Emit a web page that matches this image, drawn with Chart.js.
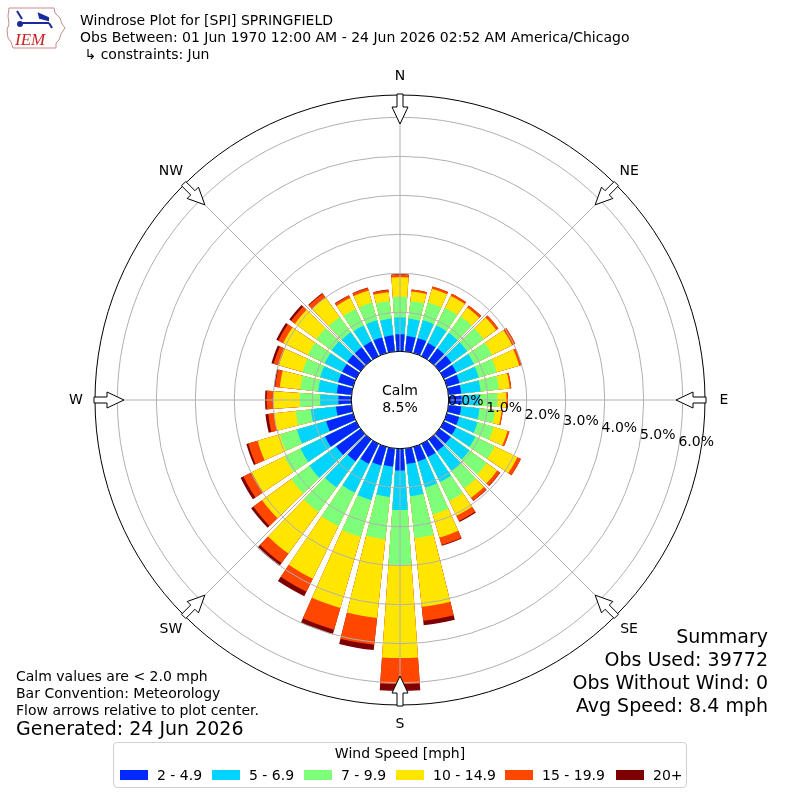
<!DOCTYPE html>
<html>
<head>
<meta charset="utf-8">
<title>Windrose Plot for [SPI] SPRINGFIELD</title>
<script src="https://cdn.jsdelivr.net/npm/chart.js@4.4.1/dist/chart.umd.min.js"></script>
<style>
  html, body { margin: 0; padding: 0; background: #fff; }
  #wrap { position: relative; width: 800px; height: 800px; overflow: hidden;
          font-family: "DejaVu Sans", sans-serif; color: #000; }
  #c { position: absolute; left: 0; top: 0; }
  .t { position: absolute; white-space: pre; font-size: 14px; line-height: 14px; }
  .big { font-size: 19px; line-height: 19px; }
  .r { text-align: right; }
  #legend { position: absolute; left: 113px; top: 742px; width: 574px; height: 46px;
            box-sizing: border-box; border: 1px solid #d0d0d0; border-radius: 4px; background: #fff; }
  #legend .title { position: absolute; left: 0; top: 3px; width: 100%; text-align: center;
                   font-size: 14px; line-height: 14px; }
  #legend .patch { position: absolute; top: 27px; width: 28px; height: 10px; }
  #legend .lab { position: absolute; top: 25px; font-size: 14px; line-height: 14px; white-space: pre; }
</style>
</head>
<body>
<div id="wrap">
  <canvas id="c" width="800" height="800"></canvas>

  <svg width="72" height="54" viewBox="0 0 72 54" style="position:absolute;left:0;top:0">
    <path d="M9,8 L54,8 L55,13 L60,18 L62,24 L65,28 L61,34 L59,40 L56,43 L56,48 L13,48 L11,42 L8,38 L7,30 L9,24 L8,16 Z"
          fill="none" stroke="#c98a8a" stroke-width="1"/>
    <g stroke="#1a2a9a" fill="#1a2a9a" stroke-width="2">
      <line x1="22" y1="23" x2="49" y2="23"/>
      <path d="M17,11 L22,19" fill="none"/>
      <path d="M39,14 L48,18 L48,20 L40,18 Z"/>
      <circle cx="20" cy="24" r="2"/>
      <path d="M49,23 L52,28" fill="none"/>
    </g>
    <text x="15" y="45" font-family="Liberation Serif" font-style="italic" font-size="17" fill="#cc2020">IEM</text>
  </svg>

  <div class="t" style="left:80px;top:13px">Windrose Plot for [SPI] SPRINGFIELD</div>
  <div class="t" style="left:80px;top:30px">Obs Between: 01 Jun 1970 12:00 AM - 24 Jun 2026 02:52 AM America/Chicago</div>
  <div class="t" style="left:80px;top:47px"> ↳ constraints: Jun</div>

  <div class="t" style="left:16px;top:669px">Calm values are &lt; 2.0 mph</div>
  <div class="t" style="left:16px;top:686px">Bar Convention: Meteorology</div>
  <div class="t" style="left:16px;top:703px">Flow arrows relative to plot center.</div>
  <div class="t big" style="left:16px;top:719px">Generated: 24 Jun 2026</div>

  <div class="t big r" style="right:32px;top:627px">Summary</div>
  <div class="t big r" style="right:32px;top:650px">Obs Used: 39772</div>
  <div class="t big r" style="right:32px;top:673px">Obs Without Wind: 0</div>
  <div class="t big r" style="right:32px;top:696px">Avg Speed: 8.4 mph</div>

  <div id="legend"><div class="title">Wind Speed [mph]</div></div>
</div>

<script>
// ---------------- data ----------------
const directions = [0,10,20,30,40,50,60,70,80,90,100,110,120,130,140,150,160,170,
                    180,190,200,210,220,230,240,250,260,270,280,290,300,310,320,330,340,350];
const speedBins = ['2 - 4.9', '5 - 6.9', '7 - 9.9', '10 - 14.9', '15 - 19.9', '20+'];
const binColors = ['#0028ff', '#00d4ff', '#7dff7a', '#ffe600', '#ff4700', '#7f0000'];

// percent of observations per direction (meteorological: direction wind blows from)
const pct2to5   = [.44,.40,.40,.38,.38,.38,.36,.34,.33,.33,.33,.33,.35,.36,.37,.38,.39,.40,
                   .56,.47,.50,.57,.69,.78,.89,.72,.40,.33,.38,.40,.40,.42,.42,.42,.42,.42];
const pct5to7   = [.43,.45,.48,.50,.50,.50,.50,.51,.50,.47,.47,.49,.55,.59,.63,.71,.70,.83,
                   1.01,.78,.92,.82,.83,.84,.70,.78,.65,.47,.48,.48,.50,.50,.48,.46,.46,.43];
const pct7to10  = [.53,.45,.47,.50,.52,.52,.52,.48,.47,.45,.40,.43,.55,.55,.55,.54,.71,1.08,
                   1.41,1.09,.98,.96,.78,.58,.46,.45,.39,.52,.46,.47,.48,.48,.48,.47,.47,.45];
const pct10to15 = [.50,.25,.37,.34,.28,.40,.57,.60,.28,.23,.17,.37,.65,.33,.30,.42,.62,1.77,
                   2.39,2.03,1.90,1.50,1.32,.92,.93,.60,.56,.68,.53,.63,.70,.68,.62,.31,.32,.23];
const pct15to20 = [.07,.05,.06,.06,.07,.07,.09,.07,.04,.04,.03,.05,.10,.09,.09,.15,.20,.36,
                   .67,.69,.58,.37,.30,.28,.24,.25,.15,.17,.12,.14,.14,.12,.12,.07,.07,.06];
const pct20up   = [.01,0,0,0,0,0,0,0,0,0,0,0,0,.01,.01,.03,.02,.12,
                   .17,.14,.12,.13,.09,.07,.08,.05,.07,.04,.03,.06,.06,.06,.02,.01,.01,.01];

const calmPct = 8.5;
const ringTicks = [0, 1, 2, 3, 4, 5, 6];
const compassLabels = ['N', 'NE', 'E', 'SE', 'S', 'SW', 'W', 'NW'];

// ---------------- build library structures ----------------
const seriesByBin = [pct2to5, pct5to7, pct7to10, pct10to15, pct15to20, pct20up];
const cumulative = [];
let running = directions.map(() => 0);
seriesByBin.forEach(arr => {
  running = running.map((v, i) => v + arr[i]);
  cumulative.push(running.slice());
});

const BAR_W = 8, GAP_W = 2;   // degrees
// sectors centred on each direction; the N sector is split in two halves
const kinds = ['bar'], angles = [BAR_W / 2];
for (let k = 1; k < directions.length; k++) { kinds.push('gap', 'bar'); angles.push(GAP_W, BAR_W); }
kinds.push('gap', 'bar'); angles.push(GAP_W, BAR_W / 2);

function toPoints(vals) {
  const pts = [vals[0]];
  for (let k = 1; k < vals.length; k++) pts.push(0, vals[k]);
  pts.push(0, vals[0]);
  return pts;
}

const datasets = cumulative.map((vals, b) => ({
  label: speedBins[b],
  data: toPoints(vals),
  backgroundColor: (ctx) => kinds[ctx.dataIndex] === 'bar' ? binColors[b] : 'rgba(0,0,0,0)',
  borderWidth: 0,
  angle: (ctx) => angles[ctx.dataIndex]
}));

const R_MIN = -1.249, R_MAX = 6.572;

// ---------------- legend (html) ----------------
const legendPatchX = [6, 98, 190, 282, 391, 502];
const legendEl = document.getElementById('legend');
speedBins.forEach((lab, i) => {
  const p = document.createElement('div');
  p.className = 'patch';
  p.style.left = legendPatchX[i] + 'px';
  p.style.background = binColors[i];
  legendEl.appendChild(p);
  const t = document.createElement('div');
  t.className = 'lab';
  t.style.left = (legendPatchX[i] + 37) + 'px';
  t.textContent = lab;
  legendEl.appendChild(t);
});

// ---------------- decorations plugin ----------------
const decor = {
  id: 'decor',
  afterDraw(chart) {
    const s = chart.scales.r;
    const ctx = chart.ctx;
    const cx = s.xCenter, cy = s.yCenter;
    const r0 = s.getDistanceFromCenterForValue(0);
    const rOut = s.getDistanceFromCenterForValue(s.max);
    ctx.save();
    // calm disc
    ctx.beginPath();
    ctx.arc(cx, cy, r0, 0, Math.PI * 2);
    ctx.fillStyle = '#fff';
    ctx.fill();
    ctx.lineWidth = 1;
    ctx.strokeStyle = '#000';
    ctx.stroke();
    ctx.fillStyle = '#000';
    ctx.font = '14px "DejaVu Sans"';
    ctx.textAlign = 'center';
    ctx.textBaseline = 'middle';
    ctx.fillText('Calm', cx, cy - 9);
    ctx.fillText(calmPct.toFixed(1) + '%', cx, cy + 8);

    // ring labels
    const a = 10 * Math.PI / 180;
    ctx.textAlign = 'left';
    ctx.textBaseline = 'bottom';
    ringTicks.forEach(v => {
      const r = s.getDistanceFromCenterForValue(v);
      ctx.fillText(v.toFixed(1) + '%', cx + r * Math.cos(a), cy + r * Math.sin(a));
    });

    // arrows + compass labels
    compassLabels.forEach((lab, i) => {
      const th = i * Math.PI / 4;
      const ux = Math.sin(th), uy = -Math.cos(th), wx = Math.cos(th), wy = Math.sin(th);
      const P = (u, w) => [cx + u * ux + w * wx, cy + u * uy + w * wy];
      const tip = rOut - 29, hb = rOut - 12, tail = rOut + 1;
      const poly = [[tip, 0], [hb, 8], [hb, 3], [tail, 3], [tail, -3], [hb, -3], [hb, -8]];
      ctx.beginPath();
      poly.forEach((q, j) => { const p = P(q[0], q[1]); j ? ctx.lineTo(p[0], p[1]) : ctx.moveTo(p[0], p[1]); });
      ctx.closePath();
      ctx.fillStyle = '#fff';
      ctx.fill();
      ctx.strokeStyle = '#000';
      ctx.lineWidth = 1;
      ctx.stroke();
      const lp = P(rOut + 19, 0);
      ctx.fillStyle = '#000';
      ctx.textAlign = 'center';
      ctx.textBaseline = 'middle';
      ctx.fillText(lab, lp[0], lp[1]);
    });
    ctx.restore();
  }
};

new Chart(document.getElementById('c'), {
  type: 'polarArea',
  data: { labels: compassLabels, datasets: datasets },
  options: {
    responsive: false,
    animation: false,
    events: [],
    layout: { padding: { left: 95, right: 95, top: 95, bottom: 95 } },
    plugins: { legend: { display: false }, tooltip: { enabled: false } },
    scales: {
      r: {
        min: R_MIN,
        max: R_MAX,
        startAngle: 0,
        afterBuildTicks: (scale) => {
          scale.ticks = ringTicks.concat([R_MAX]).map(v => ({ value: v }));
        },
        grid: {
          circular: true,
          z: 1,
          color: (ctx) => (ctx.tick && ctx.tick.value > 6.5) ? '#000' : '#b0b0b0',
          lineWidth: 1
        },
        angleLines: { display: true, color: '#b0b0b0', lineWidth: 1 },
        pointLabels: { display: false },
        ticks: { display: false }
      }
    }
  },
  plugins: [decor]
});
</script>
</body>
</html>
